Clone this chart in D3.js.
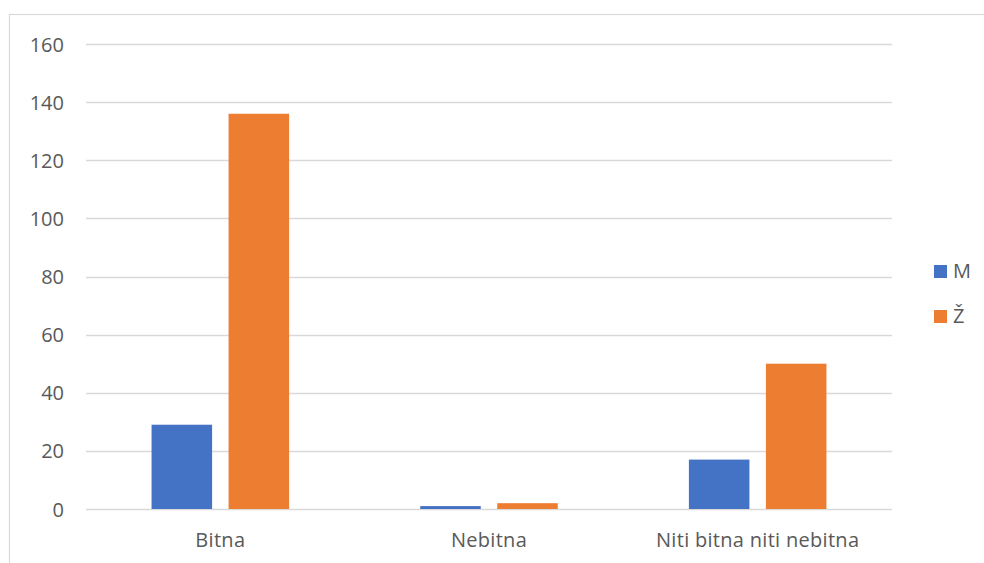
<!DOCTYPE html>
<html><head><meta charset="utf-8">
<script src="https://cdn.jsdelivr.net/npm/d3@7"></script>
<style>body{margin:0;background:#fff;} svg{display:block;font-family:"Open Sans","Liberation Sans",sans-serif;}</style>
</head><body>
<svg id="c" width="984" height="563"></svg>
<script>
const categories = ["Bitna", "Nebitna", "Niti bitna niti nebitna"];
const seriesNames = ["M", "Ž"];
const valuesM = [29, 1, 17];
const valuesZ = [136, 2, 50];
const yTicks = [0, 20, 40, 60, 80, 100, 120, 140, 160];
const colors = ["#4472C4", "#ED7D31"];

const FONT = "Open Sans, Liberation Sans, sans-serif";
const svg = d3.select("#c");
svg.append("rect").attr("x", 9.5).attr("y", 14.5).attr("width", 1000).attr("height", 600)
  .attr("fill", "none").attr("stroke", "#d9d9d9").attr("stroke-width", 1.2);

const mL = 86, mR = 892, mT = 44, mB = 509;
const y = d3.scaleLinear().domain([0, 160]).range([mB, mT]);
const x0 = d3.scaleBand().domain(categories).range([mL, mR]).paddingInner(0.488).paddingOuter(0.244);
const x1 = d3.scaleBand().domain(seriesNames).range([0, x0.bandwidth()]).paddingInner(0.214);

svg.append("g").selectAll("line").data(yTicks).join("line")
  .attr("x1", mL).attr("x2", mR)
  .attr("y1", d => Math.round(y(d)) + 0.5).attr("y2", d => Math.round(y(d)) + 0.5)
  .attr("stroke", "#d9d9d9").attr("stroke-width", 1.3);

const yAxis = d3.axisLeft(y).tickValues(yTicks).tickSize(0).tickPadding(0);
const ga = svg.append("g").attr("transform", `translate(64,0)`).call(yAxis);
ga.select(".domain").remove();
ga.selectAll("text").attr("font-size", 20).attr("fill", "#595959").attr("dy", "0.35em").attr("font-family", FONT);

const data = categories.map((c, i) => ({cat: c, vals: [valuesM[i], valuesZ[i]]}));
svg.append("g").selectAll("g").data(data).join("g")
  .attr("transform", d => `translate(${x0(d.cat)},0)`)
  .selectAll("rect").data(d => d.vals.map((v, j) => ({s: seriesNames[j], v, j})))
  .join("rect")
  .attr("x", d => x1(d.s)).attr("width", x1.bandwidth())
  .attr("y", d => y(d.v)).attr("height", d => y(0) - y(d.v))
  .attr("fill", d => colors[d.j]);

const xAxis = d3.axisBottom(x0).tickSize(0).tickPadding(0);
const gx = svg.append("g").attr("transform", `translate(0,547)`).call(xAxis);
gx.select(".domain").remove();
gx.selectAll("text").attr("font-size", 20).attr("fill", "#595959").attr("dy", "0").attr("letter-spacing", "0.3px").attr("font-family", FONT);

const lg = svg.append("g").selectAll("g").data(seriesNames).join("g")
  .attr("transform", (d, i) => `translate(934,${265 + i * 45})`);
lg.append("rect").attr("width", 13).attr("height", 13).attr("fill", (d, i) => colors[i]);
lg.append("text").attr("x", 19).attr("y", 13).attr("font-size", 20).attr("fill", "#595959").attr("font-family", FONT).text(d => d);
</script>
</body></html>
